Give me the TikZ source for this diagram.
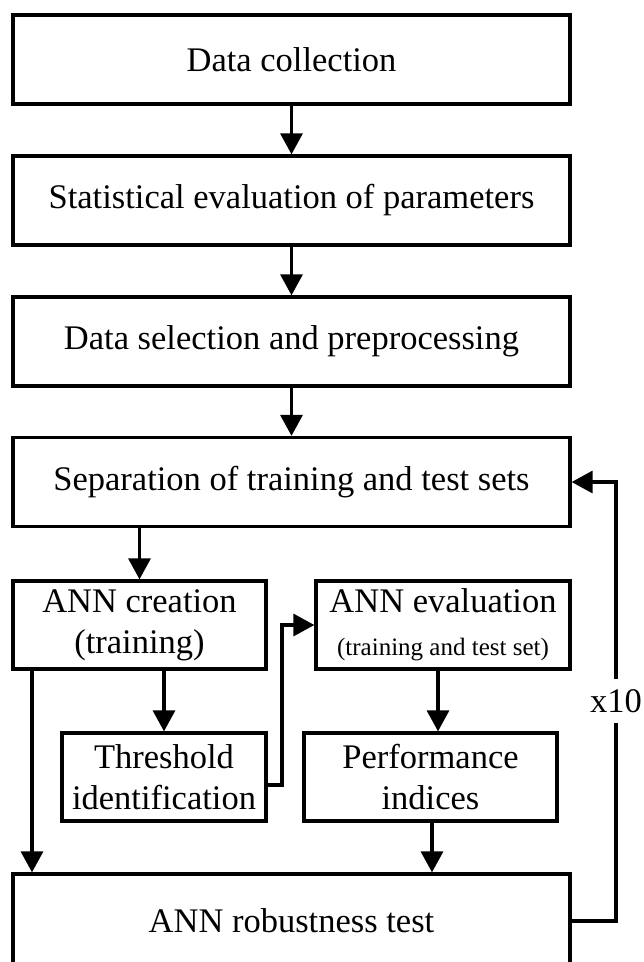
\documentclass[tikz,border=0pt]{standalone}
\usepackage{fontspec}
\setmainfont{Liberation Serif}
\usetikzlibrary{arrows.meta}
\begin{document}
\begin{tikzpicture}[x=1pt,y=-1pt,
  box/.style={draw, line width=3.3pt, inner sep=0pt, align=center,
    font=\fontsize{34.5}{41}\selectfont},
  arr/.style={-{Triangle[length=21pt,width=22pt]}, line width=3.3pt}]
\useasboundingbox (0,0) rectangle (644,962);
\clip (0,0) rectangle (644,962);
\node[box, minimum width=557pt, minimum height=89pt] (b1) at (291.5,59.5) {Data collection};
\node[box, minimum width=557pt, minimum height=89pt] (b2) at (291.5,200.5) {Statistical evaluation of parameters};
\node[box, minimum width=557pt, minimum height=89pt] (b3) at (291.5,341.5) {Data selection and preprocessing};
\node[box, minimum width=557pt, minimum height=89pt] (b4) at (291.5,482) {Separation of training and test sets};
\node[box, minimum width=253pt, minimum height=88pt] (cr) at (139.5,625) {ANN creation\\(training)};
\node[box, minimum width=254pt, minimum height=88pt] (ev) at (443,625) {ANN evaluation\\[2pt]{\fontsize{25}{30}\selectfont (training and test set)}};
\node[box, minimum width=204pt, minimum height=88pt] (th) at (164,777) {Threshold\\identification};
\node[box, minimum width=253pt, minimum height=88pt] (pf) at (430.5,777) {Performance\\indices};
\node[box, minimum width=557pt, minimum height=94pt] (rb) at (291.5,921) {ANN robustness test};
\draw[arr] (b1.south) -- (b2.north);
\draw[arr] (b2.south) -- (b3.north);
\draw[arr] (b3.south) -- (b4.north);
\draw[arr] (b4.south -| cr.north) -- (cr.north);
\draw[arr] (cr.south -| th.north) -- (th.north);
\draw[arr] (cr.south -| 32,0) -- (rb.north -| 32,0);
\draw[arr] (th.east |- 0,785) -- (282,785) |- (ev.west);
\draw[arr] (ev.south -| 438,0) -- (pf.north -| 438,0);
\draw[arr] (pf.south -| 432,0) -- (rb.north -| 432,0);
\coordinate (fx) at (616,0);
\draw[arr] (rb.east) -| (fx |- b4.east) -- (b4.east);
\node[fill=white, inner xsep=2pt, inner ysep=10pt, font=\fontsize{34.5}{41}\selectfont] (rep) at (616,701) {x10};
\end{tikzpicture}
\end{document}
